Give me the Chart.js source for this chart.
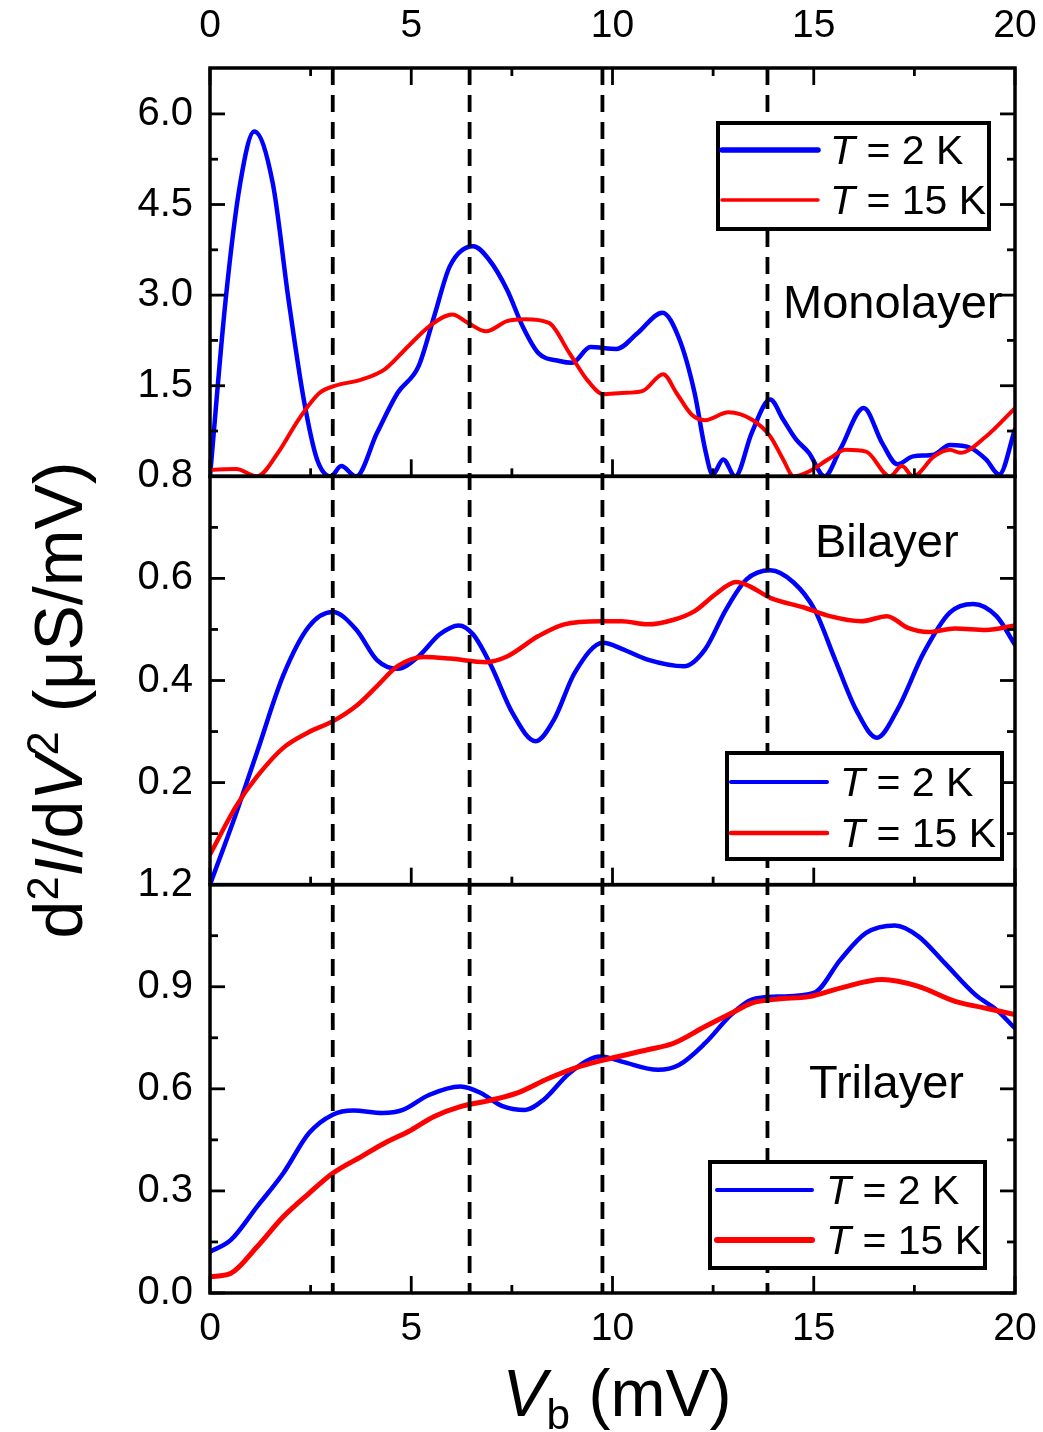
<!DOCTYPE html>
<html>
<head>
<meta charset="utf-8">
<script src="https://cdn.jsdelivr.net/npm/chart.js@4.4.0/dist/chart.umd.min.js"></script>
<style>
  html, body { margin: 0; padding: 0; background: #fff; }
  #wrap { width: 1043px; height: 1432px; }
</style>
</head>
<body>
<div id="wrap"><canvas id="c" width="1043" height="1432"></canvas></div>
<script>
// ---------------- DATA ----------------
const xMajorTicks = [0, 5, 10, 15, 20];
const xMinorTicks = [2.5, 7.5, 12.5, 17.5];
const monoTicks = [1.5, 3.0, 4.5, 6.0];
const monoMinor = [0.75, 2.25, 3.75, 5.25];
const biTicks = [0.2, 0.4, 0.6, 0.8];
const biMinor = [0.1, 0.3, 0.5, 0.7];
const triTicks = [0.0, 0.3, 0.6, 0.9, 1.2];
const triMinor = [0.15, 0.45, 0.75, 1.05];
const markerVb = [3.05, 6.45, 9.75, 13.85];
const panelNames = ['Monolayer', 'Bilayer', 'Trilayer'];
const seriesTemps = ['2', '15'];

// Monolayer
const monoV2K = [0, 0.39, 0.75, 1.1, 1.56, 1.95, 2.33, 2.66, 3.0, 3.26, 3.63, 4.15, 4.66, 5.18, 5.57, 5.96, 6.54, 6.93, 7.38, 7.77, 8.16, 8.68, 9.0, 9.45, 10.1, 10.62, 11.24, 11.65, 12.04, 12.3, 12.49, 12.75, 13.05, 13.46, 13.92, 14.24, 14.56, 14.88, 15.27, 15.66, 16.24, 16.7, 17.08, 17.47, 17.99, 18.38, 18.9, 19.28, 19.61, 20];
const mono2K = [0.0, 2.93, 4.85, 5.71, 4.85, 2.93, 1.27, 0.28, 0.0, 0.17, 0.0, 0.72, 1.38, 1.82, 2.65, 3.48, 3.81, 3.59, 3.09, 2.48, 2.04, 1.91, 1.88, 2.14, 2.11, 2.37, 2.71, 2.29, 1.38, 0.45, 0.03, 0.28, 0.0, 0.72, 1.27, 0.94, 0.61, 0.39, 0.0, 0.45, 1.13, 0.55, 0.2, 0.33, 0.36, 0.52, 0.47, 0.28, 0.03, 0.78];
const monoV15K = [0, 0.65, 1.17, 1.69, 2.2, 2.72, 3.11, 3.76, 4.34, 4.92, 5.44, 6.02, 6.41, 6.86, 7.38, 7.83, 8.42, 8.93, 9.39, 9.77, 10.23, 10.74, 11.26, 11.59, 11.97, 12.3, 12.88, 13.46, 13.92, 14.24, 14.5, 14.88, 15.4, 15.79, 16.3, 16.89, 17.19, 17.47, 17.99, 18.38, 18.64, 19.28, 20];
const mono15K = [0.11, 0.12, 0.0, 0.39, 0.94, 1.38, 1.50, 1.60, 1.77, 2.15, 2.48, 2.68, 2.54, 2.40, 2.57, 2.60, 2.54, 2.04, 1.58, 1.36, 1.38, 1.41, 1.69, 1.38, 1.02, 0.93, 1.06, 0.94, 0.66, 0.28, 0.0, 0.08, 0.30, 0.44, 0.41, 0.0, 0.17, 0.0, 0.33, 0.44, 0.39, 0.66, 1.13];

// Bilayer
const biV2K = [0, 0.65, 1.17, 1.82, 2.46, 3.05, 3.63, 4.15, 4.66, 5.18, 5.7, 6.18, 6.54, 6.99, 7.51, 8.09, 8.55, 9.06, 9.77, 10.23, 10.87, 11.78, 12.3, 12.82, 13.33, 13.92, 14.5, 15.02, 15.53, 16.05, 16.57, 17.08, 17.73, 18.38, 18.96, 19.54, 20];
const bi2K = [0.0, 0.14, 0.26, 0.41, 0.506, 0.534, 0.50, 0.44, 0.423, 0.447, 0.49, 0.508, 0.49, 0.428, 0.337, 0.281, 0.324, 0.415, 0.474, 0.462, 0.441, 0.428, 0.461, 0.539, 0.598, 0.616, 0.592, 0.539, 0.441, 0.343, 0.288, 0.343, 0.454, 0.533, 0.55, 0.526, 0.47];
const biV15K = [0, 0.65, 1.17, 1.82, 2.46, 3.05, 3.63, 4.15, 4.66, 5.31, 5.96, 6.86, 7.38, 8.16, 8.8, 9.71, 10.23, 10.87, 11.52, 12.04, 12.56, 13.07, 13.4, 13.92, 14.76, 15.4, 16.18, 16.82, 17.34, 17.86, 18.51, 19.28, 20];
const bi15K = [0.059, 0.154, 0.212, 0.268, 0.299, 0.32, 0.35, 0.389, 0.428, 0.446, 0.443, 0.436, 0.447, 0.487, 0.51, 0.516, 0.516, 0.51, 0.519, 0.536, 0.569, 0.593, 0.585, 0.562, 0.543, 0.526, 0.516, 0.526, 0.503, 0.495, 0.502, 0.499, 0.508];

// Trilayer
const triV2K = [0, 0.52, 1.17, 1.82, 2.46, 3.05, 3.56, 4.28, 4.79, 5.44, 6.22, 6.73, 7.25, 7.83, 8.29, 8.93, 9.71, 10.23, 11.13, 11.65, 12.3, 12.95, 13.46, 14.11, 15.02, 15.66, 16.3, 17.02, 17.6, 18.25, 19.02, 19.54, 20];
const tri2K = [0.121, 0.156, 0.254, 0.352, 0.47, 0.524, 0.536, 0.529, 0.538, 0.582, 0.607, 0.588, 0.55, 0.538, 0.568, 0.646, 0.695, 0.68, 0.656, 0.67, 0.734, 0.818, 0.862, 0.871, 0.883, 0.979, 1.058, 1.08, 1.048, 0.97, 0.876, 0.832, 0.778];
const triV15K = [0, 0.52, 1.17, 1.82, 2.46, 3.05, 3.76, 4.41, 4.92, 5.57, 6.22, 6.99, 7.64, 8.42, 9.19, 9.97, 10.87, 11.52, 12.3, 12.95, 13.46, 14.11, 14.88, 15.66, 16.7, 17.6, 18.51, 19.28, 20];
const tri15K = [0.048, 0.058, 0.136, 0.224, 0.293, 0.352, 0.401, 0.445, 0.474, 0.519, 0.548, 0.567, 0.588, 0.631, 0.666, 0.69, 0.715, 0.734, 0.783, 0.822, 0.852, 0.864, 0.871, 0.896, 0.921, 0.901, 0.857, 0.837, 0.818];

// ---------------- STYLE ----------------
const FAM = '"Liberation Sans", Arial, sans-serif';
Chart.defaults.font.family = FAM;
const BLUE = '#0000ff', RED = '#ff0000';

const pts = (xs, ys) => xs.map((x, i) => ({ x: x, y: ys[i] }));

function ds(xs, ys, color, width, axis) {
  return {
    data: pts(xs, ys), xAxisID: 'x', yAxisID: axis,
    borderColor: color, borderWidth: width, pointRadius: 0,
    cubicInterpolationMode: 'monotone', fill: false,
    borderJoinStyle: 'round', borderCapStyle: 'round'
  };
}

function yScale(min, max, tickArr, weight) {
  return {
    type: 'linear', position: 'left', stack: 'panels', stackWeight: 1, weight: weight,
    min: min, max: max, bounds: 'data',
    afterBuildTicks: s => { s.ticks = tickArr.map(v => ({ value: v })); },
    afterFit: s => { s.width = 210; },
    grid: { display: false, drawTicks: false },
    border: { display: false },
    ticks: { color: '#000', font: { size: 40 }, padding: 17, autoSkip: false,
             callback: v => Number(v).toFixed(1) }
  };
}

function xScale(pos, h, pad) {
  return {
    type: 'linear', position: pos, min: 0, max: 20, bounds: 'data',
    afterBuildTicks: s => { s.ticks = xMajorTicks.map(v => ({ value: v })); },
    afterFit: s => { s.height = h; s.paddingLeft = 0; s.paddingRight = 0; },
    grid: { display: false, drawTicks: false }, border: { display: false },
    ticks: { color: '#000', font: { size: 39 }, padding: pad, maxRotation: 0, autoSkip: false,
             callback: v => String(v) }
  };
}

const panels = [
  { axis: 'yMono', major: monoTicks, minor: monoMinor, name: panelNames[0], nameX: 783, nameY: 318,
    leg: { box: [718, 123, 989, 229], x0: 722, x1: 818, ly: [150, 200], tx: 830, w: [5.5, 3.5] } },
  { axis: 'yBi', major: biTicks, minor: biMinor, name: panelNames[1], nameX: 815, nameY: 557,
    leg: { box: [727, 753, 1002, 859], x0: 731, x1: 827, ly: [782, 833], tx: 840, w: [4, 4.5] } },
  { axis: 'yTri', major: triTicks, minor: triMinor, name: panelNames[2], nameX: 809, nameY: 1098,
    leg: { box: [710, 1162, 985, 1268], x0: 717, x1: 812, ly: [1190, 1240], tx: 826, w: [4, 6] } }
];

function drawRich(ctx, parts, x, y, size, align) {
  const spec = p => {
    const s = (p.sup || p.sub) ? size * 0.64 : size;
    return (p.i ? 'italic ' : '') + s + 'px ' + FAM;
  };
  let w = 0;
  parts.forEach(p => { ctx.font = spec(p); p.w = ctx.measureText(p.t).width; w += p.w; });
  let cx = align === 'center' ? x - w / 2 : x;
  ctx.textAlign = 'left';
  ctx.textBaseline = 'alphabetic';
  parts.forEach(p => {
    ctx.font = spec(p);
    const dy = p.sup ? -size * 0.36 : (p.sub ? size * 0.2 : 0);
    ctx.fillText(p.t, cx, y + dy);
    cx += p.w;
  });
}

const decor = {
  id: 'decor',
  afterDatasetsDraw(chart) {
    const ctx = chart.ctx, ca = chart.chartArea, xs = chart.scales.x;
    const line = (x1, y1, x2, y2) => { ctx.beginPath(); ctx.moveTo(x1, y1); ctx.lineTo(x2, y2); ctx.stroke(); };
    ctx.save();
    // dashed markers
    ctx.strokeStyle = '#000';
    ctx.lineWidth = 3.8;
    ctx.setLineDash([17, 10]);
    markerVb.forEach(v => { const px = xs.getPixelForValue(v); line(px, ca.top, px, ca.bottom); });
    ctx.setLineDash([]);
    // frames and inward ticks
    panels.forEach((p, i) => {
      const ys = chart.scales[p.axis];
      const top = ys.top, bot = ys.bottom;
      ctx.lineWidth = 3.5;
      ctx.strokeRect(ca.left, top, ca.right - ca.left, bot - top);
      ctx.lineWidth = 2.8;
      const yT = (vals, len) => vals.forEach(v => {
        const py = ys.getPixelForValue(v);
        line(ca.left, py, ca.left + len, py);
        line(ca.right, py, ca.right - len, py);
      });
      yT(p.major, 15); yT(p.minor, 8);
      xMajorTicks.forEach(v => { const px = xs.getPixelForValue(v); line(px, bot, px, bot - 17); });
      xMinorTicks.forEach(v => { const px = xs.getPixelForValue(v); line(px, bot, px, bot - 8); });
      if (i === 0) {
        xMajorTicks.forEach(v => { const px = xs.getPixelForValue(v); line(px, top, px, top + 17); });
        xMinorTicks.forEach(v => { const px = xs.getPixelForValue(v); line(px, top, px, top + 8); });
      }
    });
    ctx.restore();
  },
  afterDraw(chart) {
    const ctx = chart.ctx;
    ctx.save();
    ctx.fillStyle = '#000';
    panels.forEach(p => {
      // panel name
      ctx.font = '47px ' + FAM;
      ctx.textAlign = 'left';
      ctx.textBaseline = 'alphabetic';
      ctx.fillText(p.name, p.nameX, p.nameY);
      // legend box
      const L = p.leg, b = L.box;
      ctx.fillStyle = '#fff';
      ctx.fillRect(b[0], b[1], b[2] - b[0], b[3] - b[1]);
      ctx.strokeStyle = '#000';
      ctx.lineWidth = 4;
      ctx.strokeRect(b[0], b[1], b[2] - b[0], b[3] - b[1]);
      [BLUE, RED].forEach((c, k) => {
        ctx.strokeStyle = c;
        ctx.lineWidth = L.w[k];
        ctx.lineCap = 'round';
        ctx.beginPath(); ctx.moveTo(L.x0, L.ly[k]); ctx.lineTo(L.x1, L.ly[k]); ctx.stroke();
        ctx.fillStyle = '#000';
        drawRich(ctx, [{ t: 'T', i: true }, { t: ' = ' + seriesTemps[k] + ' K' }], L.tx, L.ly[k] + 14, 41, 'left');
      });
      ctx.fillStyle = '#000';
    });
    // x title
    drawRich(ctx, [{ t: 'V', i: true }, { t: 'b', sub: true }, { t: ' (mV)' }], 617, 1416, 66, 'center');
    // y title
    ctx.translate(82, 700);
    ctx.rotate(-Math.PI / 2);
    drawRich(ctx, [{ t: 'd' }, { t: '2', sup: true }, { t: 'I', i: true }, { t: '/d' }, { t: 'V', i: true },
                   { t: '2', sup: true }, { t: ' (\u03bcS/mV)' }], 0, 0, 68, 'center');
    ctx.restore();
  }
};

new Chart(document.getElementById('c'), {
  type: 'line',
  data: {
    datasets: [
      ds(monoV15K, mono15K, RED, 4, 'yMono'),
      ds(monoV2K, mono2K, BLUE, 4.5, 'yMono'),
      ds(biV15K, bi15K, RED, 4.5, 'yBi'),
      ds(biV2K, bi2K, BLUE, 4.5, 'yBi'),
      ds(triV15K, tri15K, RED, 5, 'yTri'),
      ds(triV2K, tri2K, BLUE, 4.5, 'yTri')
    ]
  },
  options: {
    responsive: false,
    animation: false,
    devicePixelRatio: 1,
    events: [],
    layout: { padding: { left: 0, right: 28, top: 0, bottom: 0 } },
    plugins: { legend: { display: false }, tooltip: { enabled: false } },
    scales: {
      x: xScale('bottom', 139, 13),
      xTop: xScale('top', 68, 18),
      yTri: yScale(0, 1.2, triTicks, 1),
      yBi: yScale(0, 0.8, biTicks, 2),
      yMono: yScale(0, 6.76, monoTicks, 3)
    }
  },
  plugins: [decor]
});
</script>
</body>
</html>
